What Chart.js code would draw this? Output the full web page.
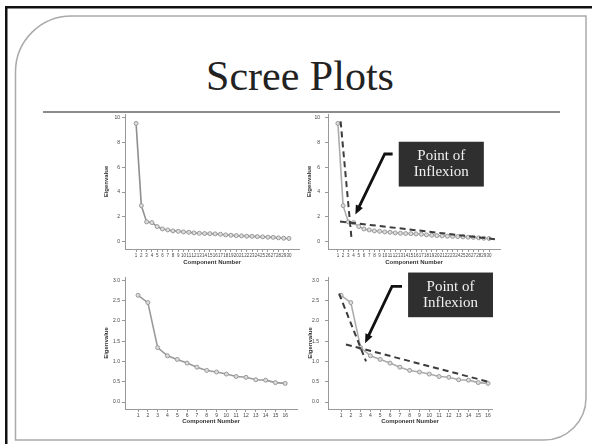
<!DOCTYPE html>
<html>
<head>
<meta charset="utf-8">
<script src="https://cdn.jsdelivr.net/npm/chart.js@4/dist/chart.umd.min.js"></script>
<style>
  body { margin: 0; width: 592px; height: 444px; background: #fff; position: relative; overflow: hidden; }
  .slide { position: absolute; left: 0; top: 0; }
  .title { position: absolute; left: 0; top: 55px; width: 600px; text-align: center;
           font: 42px/42px "Liberation Serif", serif; color: #222; }
  .box { position: absolute; }
</style>
</head>
<body>
<svg class="slide" width="592" height="444">
  <rect x="5" y="6" width="587" height="2.5" fill="#111"/>
  <rect x="5" y="6" width="2.5" height="438" fill="#111"/>
  <path d="M15.5 72 A56 56 0 0 1 71.5 16 H586 V398 A42 42 0 0 1 544 440 H15.5 Z"
        fill="none" stroke="#aaa" stroke-width="1.5"/>
  <line x1="43" y1="112" x2="560" y2="112" stroke="#666" stroke-width="1.5"/>
</svg>
<div class="title">Scree Plots</div>

<div class="box" style="left:100px;top:104px;width:204px;height:162px"><canvas id="scree1"></canvas></div>
<div class="box" style="left:300px;top:104px;width:205px;height:162px"><canvas id="scree2"></canvas></div>
<div class="box" style="left:100px;top:268px;width:202px;height:157px"><canvas id="scree3"></canvas></div>
<div class="box" style="left:300px;top:262px;width:200px;height:163px"><canvas id="scree4"></canvas></div>

<script>
// 30 성분 스크리 도표
var components30 = [1, 2, 3, 4, 5, 6, 7, 8, 9, 10, 11, 12, 13, 14, 15,
                    16, 17, 18, 19, 20, 21, 22, 23, 24, 25, 26, 27, 28, 29, 30];
var eigen30 = [9.54, 2.90, 1.59, 1.53, 1.21, 1.02, 0.94, 0.86, 0.83, 0.78, 0.75, 0.70, 0.67, 0.65, 0.64,
               0.62, 0.59, 0.54, 0.51, 0.48, 0.46, 0.43, 0.42, 0.40, 0.38, 0.35, 0.34, 0.30, 0.27, 0.25];
var yTicks30 = [0, 2, 4, 6, 8, 10];

// 16 성분 스크리 도표
var components16 = [1, 2, 3, 4, 5, 6, 7, 8, 9, 10, 11, 12, 13, 14, 15, 16];
var eigen16 = [2.63, 2.45, 1.34, 1.14, 1.05, 0.96, 0.86, 0.78, 0.74, 0.69, 0.63, 0.61, 0.55, 0.54, 0.48, 0.46];
var yTicks16 = [0, 0.5, 1, 1.5, 2, 2.5, 3];

// 변곡점 보조선 (점선)
var steep30X = [1.52, 3.58], steep30Y = [9.7, 0.38];
var flat30X = [1.4, 31.3], flat30Y = [1.62, 0.18];
var steep16X = [0.8, 3.55], steep16Y = [2.67, 1.0];
var flat16X = [1.5, 16.2], flat16Y = [1.42, 0.49];

var noteText = ["Point of", "Inflexion"];

Chart.defaults.font.family = "'Liberation Sans', Arial, sans-serif";

function pts(xs, ys) {
  return xs.map(function (x, i) { return { x: x, y: ys[i] }; });
}

// 설명 상자 + 화살표
function noteBox(n) {
  return {
    id: "note",
    afterDraw: function (chart) {
      var ctx = chart.ctx, sx = chart.scales.x, sy = chart.scales.y;
      var px = function (p) { return [sx.getPixelForValue(p[0]), sy.getPixelForValue(p[1])]; };
      var a = px([n.box[0], n.box[1]]), b = px([n.box[2], n.box[3]]);
      ctx.save();
      ctx.fillStyle = "#2f2f2f";
      ctx.fillRect(a[0], a[1], b[0] - a[0], b[1] - a[1]);
      ctx.fillStyle = "#f0f0f0";
      ctx.font = "15px 'Liberation Serif', serif";
      ctx.textAlign = "center";
      ctx.textBaseline = "middle";
      var cx = (a[0] + b[0]) / 2, cy = (a[1] + b[1]) / 2;
      noteText.forEach(function (t, i) {
        ctx.fillText(t, cx, cy + (i - (noteText.length - 1) / 2) * 16);
      });
      // 화살표
      var p = n.arrow.map(px);
      var tip = p[p.length - 1], prev = p[p.length - 2];
      var ang = Math.atan2(tip[1] - prev[1], tip[0] - prev[0]);
      var head = 10;
      ctx.strokeStyle = "#111";
      ctx.fillStyle = "#111";
      ctx.lineWidth = 2.8;
      ctx.beginPath();
      p.forEach(function (q, i) {
        if (i === 0) ctx.moveTo(q[0], q[1]);
        else if (i === p.length - 1) ctx.lineTo(q[0] - Math.cos(ang) * head * 0.8, q[1] - Math.sin(ang) * head * 0.8);
        else ctx.lineTo(q[0], q[1]);
      });
      ctx.stroke();
      ctx.beginPath();
      ctx.moveTo(tip[0], tip[1]);
      ctx.lineTo(tip[0] - head * Math.cos(ang - 0.4), tip[1] - head * Math.sin(ang - 0.4));
      ctx.lineTo(tip[0] - head * Math.cos(ang + 0.4), tip[1] - head * Math.sin(ang + 0.4));
      ctx.closePath();
      ctx.fill();
      ctx.restore();
    }
  };
}

function scree(id, o) {
  var datasets = [];
  (o.cuts || []).forEach(function (c) {
    datasets.push({
      data: pts(c[0], c[1]),
      borderColor: "#3c3c3c",
      borderWidth: 2,
      borderDash: [6, 4],
      pointRadius: 0
    });
  });
  datasets.push({
    data: pts(o.comps, o.eigen),
    borderColor: o.lineColor,
    borderWidth: 1.6,
    pointRadius: 2,
    pointBackgroundColor: "#dcdcdc",
    pointBorderColor: "#999",
    pointBorderWidth: 1
  });

  new Chart(document.getElementById(id), {
    type: "line",
    data: { datasets: datasets },
    options: {
      maintainAspectRatio: false,
      animation: false,
      layout: { padding: o.pad },
      plugins: { legend: { display: false }, tooltip: { enabled: false } },
      scales: {
        x: {
          type: "linear",
          min: o.xMin,
          max: o.xMax,
          afterBuildTicks: function (s) { s.ticks = o.comps.map(function (v) { return { value: v }; }); },
          afterFit: function (s) { s.height = o.xh; },
          grid: { drawOnChartArea: false, tickLength: 3, color: "#999" },
          border: { color: "#999" },
          ticks: { autoSkip: false, maxRotation: 0, padding: 1, color: "#444", font: { size: o.xFont } },
          title: { display: true, text: "Component Number", color: "#333", padding: 0,
                   font: { size: 6, weight: "bold" } }
        },
        y: {
          min: o.yMin,
          max: o.yMax,
          afterBuildTicks: function (s) { s.ticks = o.yTicks.map(function (v) { return { value: v }; }); },
          afterFit: function (s) { s.width = o.yw; },
          grid: { drawOnChartArea: false, tickLength: 3, color: "#999" },
          border: { color: "#999" },
          ticks: {
            padding: o.yPad, color: "#444", font: { size: 5 },
            callback: function (v) { return o.dec ? v.toFixed(1) : String(v); }
          },
          title: { display: true, text: "Eigenvalue", color: "#333", padding: 0,
                   font: { size: 6, weight: "bold" } }
        }
      }
    },
    plugins: o.note ? [noteBox(o.note)] : []
  });
}

scree("scree1", {
  comps: components30, eigen: eigen30, yTicks: yTicks30, lineColor: "#8e8e8e",
  xMin: -1.1, xMax: 31.9, yMin: -0.6, yMax: 10.3,
  pad: { left: 3, right: 5, top: 10, bottom: 0 }, yw: 22, xh: 17, yPad: 2, xFont: 4.5
});

scree("scree2", {
  comps: components30, eigen: eigen30, yTicks: yTicks30, lineColor: "#acacac",
  xMin: -0.9, xMax: 32.1, yMin: -0.6, yMax: 10.3,
  pad: { left: 6, right: 5, top: 10, bottom: 0 }, yw: 22, xh: 17, yPad: 5, xFont: 4.5,
  cuts: [[steep30X, steep30Y], [flat30X, flat30Y]],
  note: { box: [12.67, 8.06, 29.0, 4.44], arrow: [[11.5, 7.07], [9.98, 7.07], [4.35, 2.18]] }
});

scree("scree3", {
  comps: components16, eigen: eigen16, yTicks: yTicks16, lineColor: "#9a9a9a", dec: true,
  xMin: -0.33, xMax: 17.2, yMin: -0.17, yMax: 3.08,
  pad: { left: 3, right: 5, top: 9, bottom: 0 }, yw: 22, xh: 16, yPad: 2, xFont: 5
});

scree("scree4", {
  comps: components16, eigen: eigen16, yTicks: yTicks16, lineColor: "#acacac", dec: true,
  xMin: -0.33, xMax: 16.4, yMin: -0.17, yMax: 3.08,
  pad: { left: 7, right: 8, top: 15, bottom: 0 }, yw: 21, xh: 16, yPad: 6, xFont: 5,
  cuts: [[steep16X, steep16Y], [flat16X, flat16Y]],
  note: { box: [7.84, 3.19, 16.5, 2.09], arrow: [[7.22, 2.85], [6.2, 2.85], [3.45, 1.45]] }
});
</script>
</body>
</html>
